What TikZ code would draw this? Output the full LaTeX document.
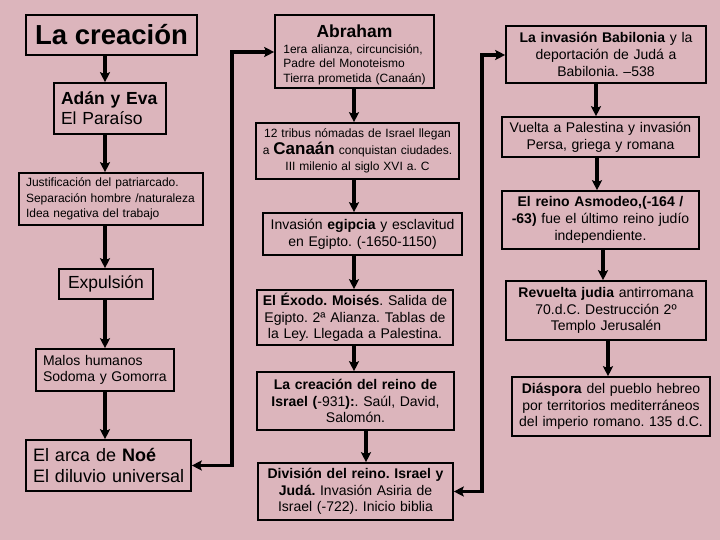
\documentclass[tikz,border=0pt]{standalone}
\usepackage{fontspec}
\setmainfont{Liberation Sans}
\usetikzlibrary{arrows.meta}
\definecolor{bg}{RGB}{220,181,188}
\frenchspacing
\begin{document}
\begin{tikzpicture}[x=1pt,y=-1pt,
  box/.style={draw, line width=1.6pt, inner ysep=0pt, inner xsep=2pt, align=center},
  lbox/.style={draw, line width=1.6pt, inner ysep=0pt, inner xsep=7pt, align=left},
  fs/.style={font=\fontsize{14}{16.7}\selectfont},
  tip/.tip={Stealth[length=10pt,width=10pt,inset=2pt]},
  arr/.style={line width=3.5pt, -tip},
  darr/.style={line width=3.5pt, tip-tip},
]
\fill[bg] (0,0) rectangle (720,540);
\useasboundingbox (0,0) rectangle (720,540);

% left column
\node[box, inner xsep=0pt, minimum width=171pt, minimum height=40pt,
  font=\fontsize{27.5}{30}\selectfont\bfseries] (creacion) at (111.5,35) {La creación};
\node[lbox, text width=98pt, minimum height=51pt, font=\fontsize{17.5}{20}\selectfont]
  (adan) at (110,108.5) {\mbox{\textbf{Adán y Eva}}\\El Paraíso};
\node[lbox, text width=170pt, minimum height=52pt, font=\fontsize{12}{15.5}\selectfont]
  (just) at (111,199) {\mbox{Justificación del patriarcado.}\\\mbox{Separación hombre /naturaleza}\\\mbox{Idea negativa del trabajo}};
\node[box, inner xsep=0pt, minimum width=94pt, minimum height=30pt, font=\fontsize{17.5}{20}\selectfont]
  (expul) at (106,284) {Expulsión};
\node[lbox, text width=124pt, minimum height=42pt, font=\fontsize{14}{16.7}\selectfont]
  (malos) at (105,370) {\mbox{Malos humanos}\\\mbox{Sodoma y Gomorra}};
\node[lbox, text width=151pt, minimum height=51pt, font=\fontsize{18}{21.7}\selectfont]
  (noe) at (108.5,465.5) {\mbox{El arca de \textbf{Noé}}\\\mbox{El diluvio universal}};

% middle column
\node[box, text width=155pt, text height=22.5pt, text depth=50.5pt, font=\fontsize{12}{14.5}\selectfont]
  (abraham) at (354.5,51.5) {{\fontsize{17.5}{21}\selectfont\bfseries Abraham}\\[1.5pt]
  \begin{tabular}[t]{@{}l@{}}1era alianza, circuncisión,\\Padre del Monoteismo\\Tierra prometida (Canaán)\end{tabular}};
\node[box, text width=199pt, minimum height=56pt, font=\fontsize{12}{16.5}\selectfont]
  (tribus) at (357.5,151) {\mbox{12 tribus nómadas de Israel llegan}\\\mbox{a {\fontsize{17}{16.5}\selectfont\bfseries Canaán} conquistan ciudades.}\\III milenio al siglo XVI a. C};
\node[box, fs, text width=195pt, minimum height=42pt]
  (egipto) at (362.5,234) {\mbox{Invasión \textbf{egipcia} y esclavitud}\\en Egipto. (-1650-1150)};
\node[box, fs, text width=192pt, minimum height=55pt]
  (exodo) at (355,317.5) {\mbox{\textbf{El Éxodo. Moisés}. Salida de}\\\mbox{Egipto. 2ª Alianza. Tablas de}\\\mbox{la Ley. Llegada a Palestina.}};
\node[box, fs, text width=193pt, minimum height=58pt]
  (reino) at (355.5,401) {\textbf{La creación del reino de}\\\mbox{\textbf{Israel (}-931\textbf{):}. Saúl, David,}\\Salomón.};
\node[box, fs, text width=191pt, minimum height=57pt]
  (division) at (355.5,491.5) {\mbox{\textbf{División del reino. Israel y}}\\\textbf{Judá.} Invasión Asiria de\\\mbox{Israel (-722). Inicio biblia}};

% right column
\node[box, fs, text width=196pt, minimum height=57pt]
  (babil) at (606,54.5) {\mbox{\textbf{La invasión Babilonia} y la}\\deportación de Judá a\\Babilonia. –538};
\node[box, fs, text width=193pt, minimum height=40pt]
  (vuelta) at (600.5,137) {\mbox{Vuelta a Palestina y invasión}\\Persa, griega y romana};
\node[box, fs, text width=193pt, minimum height=58pt]
  (asmo) at (600.5,220) {\mbox{\textbf{El reino Asmodeo,(-164 /}}\\\mbox{\textbf{-63)} fue el último reino judío}\\independiente.};
\node[box, fs, text width=196pt, minimum height=59pt]
  (revuelta) at (606,310.5) {\mbox{\textbf{Revuelta judia} antirromana}\\70.d.C. Destrucción 2º\\Templo Jerusalén};
\node[box, fs, text width=194pt, minimum height=59pt]
  (diasp) at (611,406.5) {\mbox{\textbf{Diáspora} del pueblo hebreo}\\\mbox{por territorios mediterráneos}\\\mbox{del imperio romano. 135 d.C.}};

% x positions of vertical connectors
\coordinate (xl) at (105,0);
\coordinate (xm) at (354,0);
\coordinate (xm2) at (366,0);
\coordinate (xr1) at (596,0);
\coordinate (xr2) at (597,0);
\coordinate (xr3) at (603,0);
\coordinate (xr4) at (608,0);
\coordinate (j1) at (232,52);
\coordinate (j2) at (482,55);

\draw[arr] (creacion.south -| xl) -- (adan.north -| xl);
\draw[arr] (adan.south -| xl) -- (just.north -| xl);
\draw[arr] (just.south -| xl) -- (expul.north -| xl);
\draw[arr] (expul.south -| xl) -- (malos.north -| xl);
\draw[arr] (malos.south -| xl) -- (noe.north -| xl);

\draw[arr] (abraham.south -| xm) -- (tribus.north -| xm);
\draw[arr] (tribus.south -| xm) -- (egipto.north -| xm);
\draw[arr] (egipto.south -| xm) -- (exodo.north -| xm);
\draw[arr] (exodo.south -| xm) -- (reino.north -| xm);
\draw[arr] (reino.south -| xm2) -- (division.north -| xm2);

\draw[arr] (babil.south -| xr1) -- (vuelta.north -| xr1);
\draw[arr] (vuelta.south -| xr2) -- (asmo.north -| xr2);
\draw[arr] (asmo.south -| xr3) -- (revuelta.north -| xr3);
\draw[arr] (revuelta.south -| xr4) -- (diasp.north -| xr4);

\draw[darr] (noe.east) -| (j1) -- (abraham.west |- j1);
\draw[darr] (division.east) -| (j2) -- (babil.west |- j2);
\end{tikzpicture}
\end{document}
